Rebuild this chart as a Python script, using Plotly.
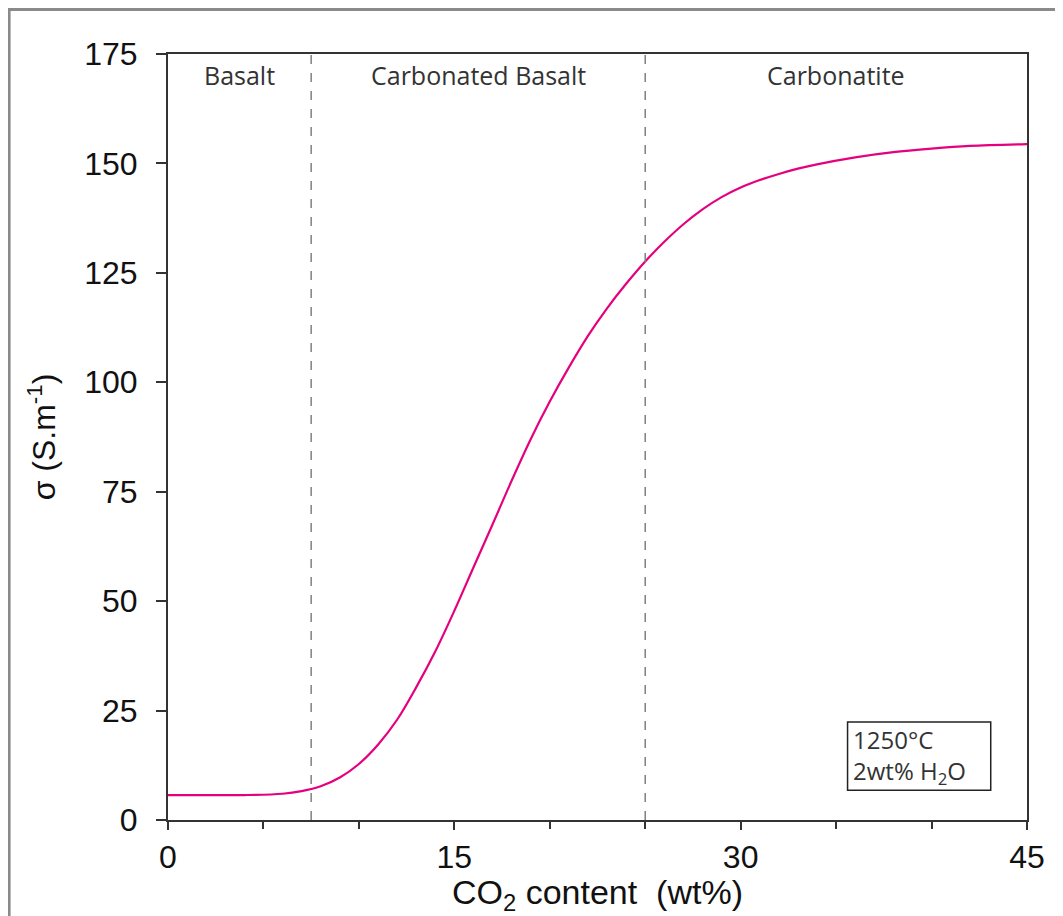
import plotly.graph_objects as go

# CO2 content (wt%) and conductivity (S/m)
co2 = [0, 2, 4, 6, 7, 8, 9, 10, 11, 12, 13, 14, 15, 16, 17, 18, 19, 20, 21, 22, 23, 24,
       25, 26, 27, 28, 29, 30, 31, 32, 33, 34, 36, 38, 40, 42, 45]
sigma = [5.7, 5.7, 5.7, 6.0, 6.6, 7.7, 9.7, 12.8, 17.2, 22.9, 30.3, 38.5, 47.8, 57.7, 67.5,
         77.5, 87.0, 95.6, 103.4, 110.6, 116.9, 122.5, 127.6, 132.1, 136.1, 139.5, 142.3,
         144.5, 146.2, 147.6, 148.8, 149.8, 151.4, 152.6, 153.4, 154.0, 154.4]

boundaries = [7.5, 25]
regions = ["Basalt", "Carbonated Basalt", "Carbonatite"]
region_centres = [3.75, 16.25, 35]

fig = go.Figure()
fig.add_trace(go.Scatter(x=co2, y=sigma, mode="lines", line_shape="spline",
                         line=dict(color="#E5007E", width=2.2), showlegend=False))

for b in boundaries:
    fig.add_shape(type="line", x0=b, x1=b, y0=0, y1=175, xref="x", yref="y",
                  line=dict(color="#808080", width=1.5, dash="dash"))

for name, xc in zip(regions, region_centres):
    fig.add_annotation(x=xc, y=170.2, text=name, showarrow=False, yanchor="middle",
                       font=dict(family="Open Sans", size=25, color="#333"))

# condition box
fig.add_shape(type="rect", x0=35.6, x1=43.1, y0=6.8, y1=22.4,
              line=dict(color="#222", width=1.5), fillcolor="white")
fig.add_annotation(x=35.8, y=14.6, text="1250°C<br>2wt% H<sub>2</sub>O", showarrow=False,
                   xanchor="left", align="left",
                   font=dict(family="Open Sans", size=24, color="#333"))

# outer frame
fig.add_shape(type="rect", xref="paper", yref="paper", x0=-0.185, x1=1.2, y0=-0.3, y1=1.058,
              line=dict(color="#8a8a8a", width=3), layer="below")

tick_font = dict(family="Liberation Sans", size=32, color="#111")
title_font = dict(family="Liberation Sans", size=34, color="#111")

fig.update_xaxes(range=[0, 45], tickvals=[0, 15, 30, 45], ticks="outside", ticklen=8,
                 tickwidth=2, tickcolor="#333", showline=True, linecolor="#333", linewidth=2,
                 mirror=True, showgrid=False, zeroline=False, tickfont=tick_font,
                 minor=dict(dtick=5, ticks="outside", ticklen=7, tickwidth=2, tickcolor="#333"),
                 title=dict(text="CO<sub>2</sub> content&nbsp; (wt%)", font=title_font, standoff=2))
fig.update_yaxes(range=[0, 175], dtick=25, ticks="outside", ticklen=10, tickwidth=2,
                 tickcolor="#333", showline=True, linecolor="#333", linewidth=2, mirror=True,
                 showgrid=False, zeroline=False, tickfont=tick_font, ticklabelstandoff=12,
                 title=dict(text="σ (S.m<sup>-1</sup>)", font=tick_font, standoff=19))

fig.update_layout(width=1055, height=908, plot_bgcolor="white", paper_bgcolor="white",
                  margin=dict(l=160, r=36, t=46, b=96))

fig.write_html("out.html")
